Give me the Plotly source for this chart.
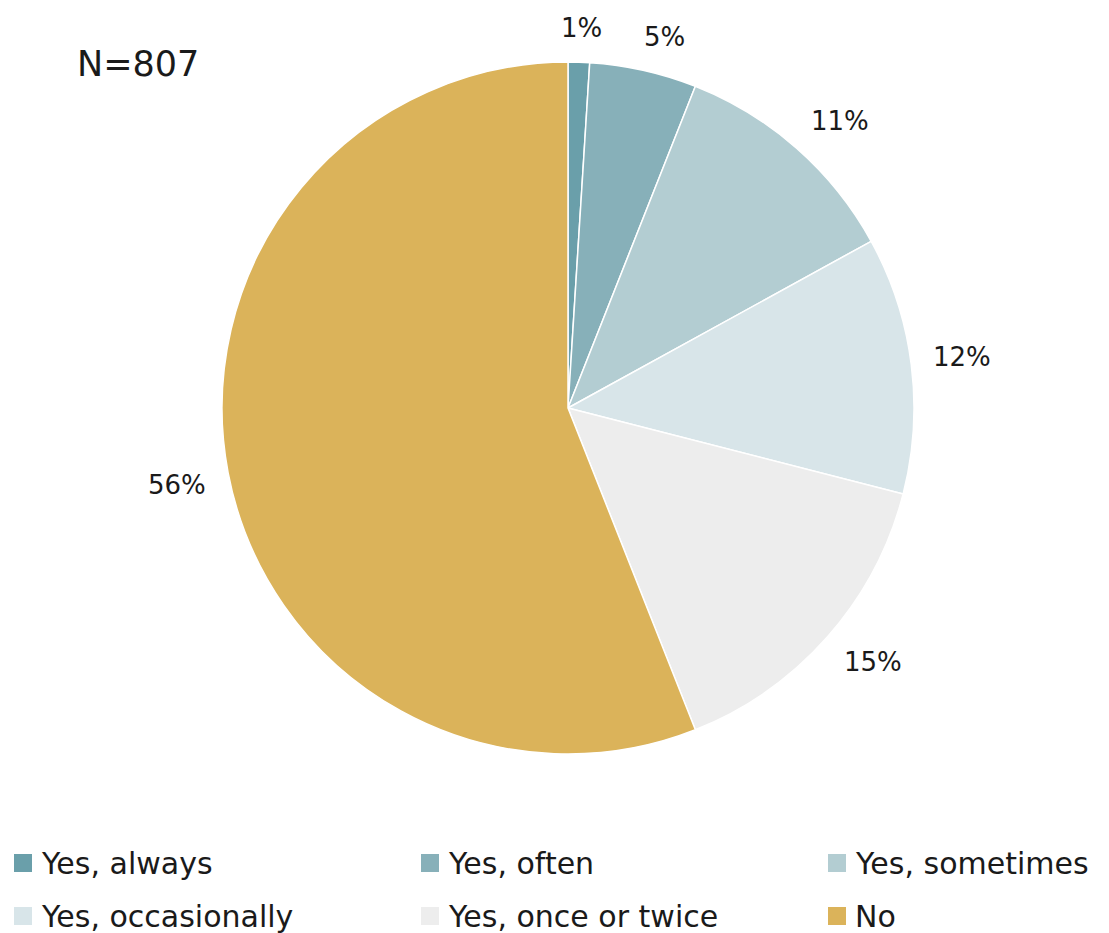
import math
import plotly.graph_objects as go

categories = ["Yes, always", "Yes, often", "Yes, sometimes",
              "Yes, occasionally", "Yes, once or twice", "No"]
shares = [1, 5, 11, 12, 15, 56]
colors = ["#6A9FAA", "#87B0B9", "#B3CDD2", "#D8E5E9", "#EDEDED", "#DBB35A"]
sample_note = "N=807"

W, H = 1109, 933
cx, cy, r = 568, 408, 346          # pie centre and radius in pixels
FONT = "DejaVu Sans"
TEXT = "#1a1a1a"


def px(x):
    return x / W


def py(y):
    return 1 - y / H


def clamp(v):
    return max(-1.0, min(1.0, v))


fig = go.Figure(go.Pie(
    labels=categories,
    values=shares,
    sort=False,
    direction="clockwise",
    rotation=0,
    marker=dict(colors=colors, line=dict(color="white", width=1.5)),
    textinfo="none",
    hoverinfo="label+percent",
    showlegend=False,
    domain=dict(x=[px(cx - r), px(cx + r)], y=[py(cy + r), py(cy - r)]),
))

# value labels just outside each slice, pushed away from the rim at the mid-angle
label_size = 26
total = sum(shares)
start = 0.0
for v in shares:
    mid = (start + v / 2) / total * 2 * math.pi
    start += v
    ux, uy = math.sin(mid), -math.cos(mid)
    text = f"{v}%"
    half_w = len(text) * 0.7 * label_size / 2
    half_h = 0.375 * label_size
    gap = r + 24
    x = cx + gap * ux + half_w * clamp(4 * ux)
    y = cy + gap * uy + half_h * clamp(4 * uy)
    fig.add_annotation(text=text, x=px(x), y=py(y), xref="paper", yref="paper",
                       xanchor="center", yanchor="middle", showarrow=False,
                       font=dict(size=label_size, color=TEXT, family=FONT))

fig.add_annotation(text=sample_note, x=px(75), y=py(64), xref="paper", yref="paper",
                   xanchor="left", yanchor="middle", showarrow=False,
                   font=dict(size=35, color=TEXT, family=FONT))

# legend: three columns, two rows
col_x = [14, 421, 828]
row_y = [863, 916]
sq = 18
for i, (name, col) in enumerate(zip(categories, colors)):
    x0 = col_x[i % 3]
    yc = row_y[i // 3]
    fig.add_shape(type="rect", xref="paper", yref="paper",
                  x0=px(x0), x1=px(x0 + sq), y0=py(yc + sq / 2), y1=py(yc - sq / 2),
                  fillcolor=col, line=dict(width=0))
    fig.add_annotation(text=name, x=px(x0 + sq + 7), y=py(yc), xref="paper", yref="paper",
                       xanchor="left", yanchor="middle", showarrow=False,
                       font=dict(size=30, color=TEXT, family=FONT))

fig.update_layout(
    width=W, height=H,
    margin=dict(l=0, r=0, t=0, b=0),
    paper_bgcolor="white",
    plot_bgcolor="white",
)

fig.write_html("out.html")
